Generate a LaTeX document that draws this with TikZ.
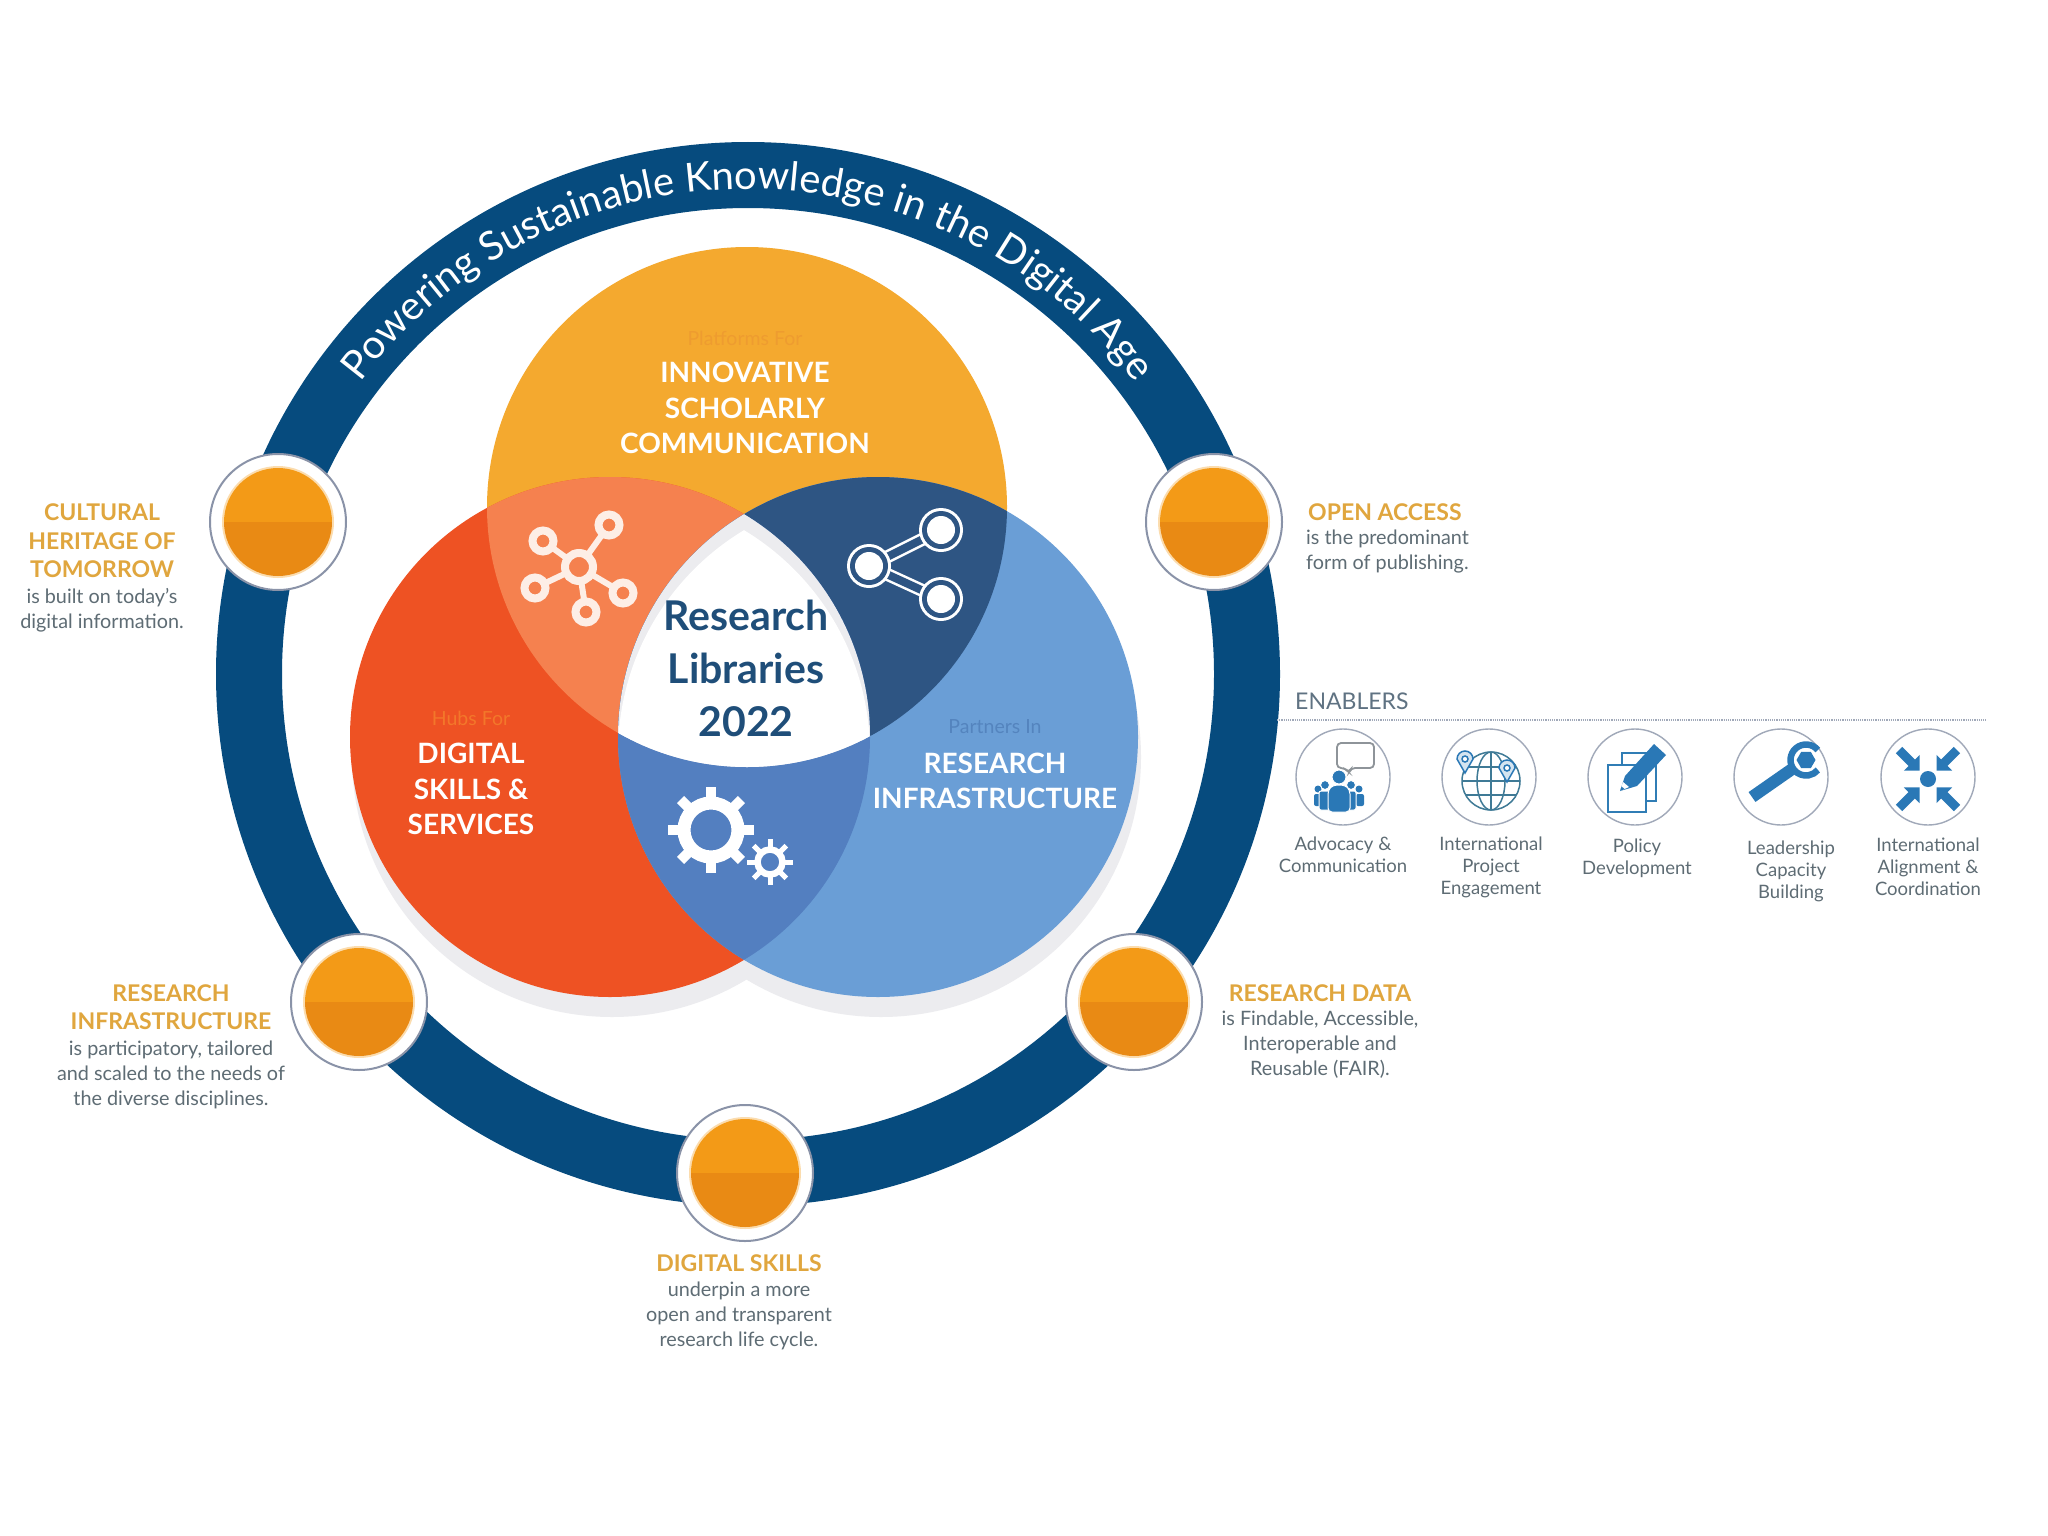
\documentclass[tikz,border=0pt]{standalone}
\usepackage{fontspec}
\setmainfont{Lato}
\usetikzlibrary{decorations.text,shapes.geometric}
\definecolor{ringblue}{HTML}{064B7E}
\definecolor{cyellow}{HTML}{F4A92F}
\definecolor{cred}{HTML}{EE5223}
\definecolor{cblue}{HTML}{6A9ED6}
\definecolor{ovry}{HTML}{F5814F}
\definecolor{ovyb}{HTML}{2E5583}
\definecolor{ovrb}{HTML}{537FC0}
\definecolor{shadowc}{HTML}{ECECEF}
\definecolor{headgold}{HTML}{E0A63E}
\definecolor{bodygray}{HTML}{5E6C74}
\definecolor{centerblue}{HTML}{1F4E79}
\definecolor{iconblue}{HTML}{2A78B6}
\definecolor{iconteal}{HTML}{4A8FB0}
\definecolor{discup}{HTML}{F39A17}
\definecolor{disclow}{HTML}{E98A14}
\definecolor{discring}{HTML}{8A93A8}
\definecolor{enabgray}{HTML}{5F7282}
\definecolor{pfcolor}{HTML}{EE9C30}
\definecolor{hfcolor}{HTML}{F3772A}
\definecolor{picolor}{HTML}{5484BE}
\definecolor{bubblegray}{HTML}{8E9499}
\definecolor{iconpeach}{HTML}{FDEEE6}
\tikzset{
  bighead/.style={text=white,align=center,inner sep=0pt,font=\bfseries\fontsize{28}{35.5}\selectfont},
  smallhead/.style={align=center,inner sep=0pt,font=\fontsize{19.5}{22}\selectfont},
  lhead/.style={text=headgold,align=center,inner sep=0pt,font=\bfseries\fontsize{23}{28.5}\selectfont},
  lbody/.style={text=bodygray,align=center,inner sep=0pt,font=\fontsize{19.8}{25}\selectfont},
  enlabel/.style={text=bodygray,align=center,inner sep=0pt,font=\fontsize{18.5}{22}\selectfont},
  encircle/.style={draw=discring!80,line width=1.4pt,fill=white,ellipse,minimum width=94pt,minimum height=96pt,inner sep=0pt},
  nodering/.style={draw=discring,line width=2pt,fill=white,circle,minimum size=136pt,inner sep=0pt},
}
\newcommand{\rcirc}{(610,737) circle[radius=260]}
\newcommand{\ycirc}{(747,507) circle[radius=260]}
\newcommand{\bcirc}{(878,737) circle[radius=260]}
\newcommand{\orangedisc}[1]{%
  \begin{scope}[shift={#1}]
    \fill[discup!35] (0,0) circle[radius=56];
    \begin{scope}\clip (0,0) circle[radius=54];
      \fill[discup] (-55,-55) rectangle (55,0);
      \fill[disclow] (-55,0) rectangle (55,55);
    \end{scope}
  \end{scope}}
\begin{document}
\begin{tikzpicture}[x=1pt,y=-1pt]
\useasboundingbox (0,0) rectangle (2048,1536);
\fill[white] (0,0) rectangle (2048,1536);
% ring
\draw[ringblue,line width=66pt] (748,674) circle[radius=499];
\path[decorate,decoration={text along path,text color=white,text align=center,
  text={|\fontsize{40}{40}\selectfont|Powering Sustainable Knowledge in the Digital Age}}]
  (748,674) ++(144.5:485pt) arc[start angle=144.5,end angle=35.5,radius=485pt];
% shadows
\fill[shadowc] (612,757) circle[radius=260];
\fill[shadowc] (881,757) circle[radius=260];
% main circles
\fill[cyellow] \ycirc;
\fill[cred] \rcirc;
\fill[cblue] \bcirc;
% overlaps
\begin{scope}\clip \rcirc; \fill[ovry] \ycirc; \end{scope}
\begin{scope}\clip \ycirc; \fill[ovyb] \bcirc; \end{scope}
\begin{scope}\clip \rcirc; \fill[ovrb] \bcirc; \end{scope}
% centre
\begin{scope}\clip \rcirc; \clip \ycirc; \clip \bcirc;
  \fill[shadowc] (600,400) rectangle (900,800);
  \begin{scope}[shift={(0,16)}]
    \clip \rcirc; \clip \bcirc;
    \fill[white] (500,400) rectangle (1000,900);
  \end{scope}
\end{scope}
% network icon
\foreach \px/\py in {543/541,609/525,535/588,623/593,586/612}{
  \draw[iconpeach,line width=6pt] (579,567) -- (\px,\py);
  \fill[ovry,draw=iconpeach,line width=8pt] (\px,\py) circle[radius=10.5];
}
\fill[ovry,draw=iconpeach,line width=8pt] (579,567) circle[radius=14];
% share icon
\draw[white,line width=13pt] (869,566) -- (941,530) (869,566) -- (941,599);
\draw[ovyb,line width=8pt] (869,566) -- (941,530) (869,566) -- (941,599);
\foreach \px/\py in {941/530,869/566,941/599}{
  \fill[white] (\px,\py) circle[radius=22];
  \fill[ovyb] (\px,\py) circle[radius=19];
  \fill[white] (\px,\py) circle[radius=14];
}
% gears
\draw[white,line width=13pt] (711,830) circle[radius=27];
\foreach \a in {0,45,...,315}{\draw[white,line width=10pt] (711,830) ++(\a:30pt) -- ++(\a:13pt);}
\draw[white,line width=6.5pt] (770,862) circle[radius=12.5];
\foreach \a in {0,45,...,315}{\draw[white,line width=5pt] (770,862) ++(\a:14pt) -- ++(\a:9pt);}
% circle texts
\node[smallhead,text=pfcolor] (pf) at (745,338) {Platforms For};
\node[bighead] (isc) at (745,408) {INNOVATIVE\\SCHOLARLY\\COMMUNICATION};
\node[smallhead,text=hfcolor] (hf) at (471,718) {Hubs For};
\node[bighead] (dss) at (471,789) {DIGITAL\\SKILLS \&\\SERVICES};
\node[smallhead,text=picolor] (pi) at (995,727) {Partners In};
\node[bighead] (ri) at (995,781) {RESEARCH\\INFRASTRUCTURE};
\node[text=centerblue,align=center,inner sep=0pt,font=\bfseries\fontsize{41}{53}\selectfont] (ctr) at (746,668) {Research\\Libraries\\2022};
% node discs
\node[nodering] (n1) at (278,522) {};
\node[nodering] (n2) at (1214,522) {};
\node[nodering] (n3) at (1134,1002) {};
\node[nodering] (n4) at (359,1002) {};
\node[nodering] (n5) at (745,1173) {};
\orangedisc{(278,522)}\orangedisc{(1214,522)}\orangedisc{(1134,1002)}\orangedisc{(359,1002)}\orangedisc{(745,1173)}
% labels
\node[lhead] (l1h) at (102,541) {CULTURAL\\HERITAGE OF\\TOMORROW};
\node[lbody] (l1b) at (102,610) {is built on today's\\digital information.};
\node[lhead,anchor=west] (l2h) at (1308,512) {OPEN ACCESS};
\node[lbody,align=left,anchor=west] (l2b) at (1306,552) {is the predominant\\form of publishing.};
\node[lhead] (l3h) at (171,1007) {RESEARCH\\INFRASTRUCTURE};
\node[lbody] (l3b) at (171,1075) {is participatory, tailored\\and scaled to the needs of\\the diverse disciplines.};
\node[lhead] (l4h) at (1320,993) {RESEARCH DATA};
\node[lbody] (l4b) at (1320,1045) {is Findable, Accessible,\\Interoperable and\\Reusable (FAIR).};
\node[lhead] (l5h) at (739,1263) {DIGITAL SKILLS};
\node[lbody] (l5b) at (739,1316) {underpin a more\\open and transparent\\research life cycle.};
% enablers
\node[text=enabgray,anchor=west,inner sep=0pt,font=\fontsize{23}{28}\selectfont] (en) at (1295,701) {ENABLERS};
\coordinate (ena) at (1277,720);
\coordinate (enb) at (1986,720);
\draw[discring!80,line width=1.2pt,densely dotted] (ena) -- (enb);
\node[encircle] (e1) at (1343,777) {};
\node[encircle] (e2) at (1489,777) {};
\node[encircle] (e3) at (1635,777) {};
\node[encircle] (e4) at (1781,777) {};
\node[encircle] (e5) at (1928,777) {};
\node[enlabel] (t1) at (1343,855) {Advocacy \&\\Communication};
\node[enlabel] (t2) at (1491,867) {International\\Project\\Engagement};
\node[enlabel] (t3) at (1637,858) {Policy\\Development};
\node[enlabel] (t4) at (1791,871) {Leadership\\Capacity\\Building};
\node[enlabel] (t5) at (1928,867) {International\\Alignment \&\\Coordination};
% icon 1: people + bubble
\begin{scope}[shift={(1343,777)}]
  \draw[bubblegray,line width=1.8pt,rounded corners=4pt,fill=white] (-6,-34) -- (31,-34) -- (31,-9) -- (8,-9) -- (6,-4) -- (2,-9) -- (-6,-9) -- cycle;
  \foreach \hx/\hy/\ba/\bb in {-25/12/-29/-21,16/12/13/21}{
    \fill[iconblue] (\hx,\hy) circle[radius=3.5];
    \fill[iconblue,rounded corners=2pt] (\ba,\hy+5) rectangle (\bb,29);
  }
  \foreach \hx/\hy/\ba/\bb in {-18/8/-24/-13,8/8/4/13}{
    \fill[iconblue,draw=white,line width=1pt] (\hx,\hy) circle[radius=4.5];
    \fill[iconblue,draw=white,line width=1pt,rounded corners=2pt] (\ba,\hy+6) rectangle (\bb,33);
  }
  \fill[iconblue,draw=white,line width=1pt] (-4,0) circle[radius=7];
  \fill[iconblue,draw=white,line width=1pt,rounded corners=4pt] (-15,35) -- (-15,13) -- (-10,8) -- (2,8) -- (7,13) -- (7,35) -- cycle;
\end{scope}
% icon 2: globe
\begin{scope}[shift={(1489,777)},iconteal!85!black,line width=1.5pt]
  \draw (2,4) circle[radius=29];
  \draw (2,4) circle[x radius=14,y radius=29];
  \draw (2,-25) -- (2,33);
  \draw (-27,4) -- (31,4);
  \draw (-23,-10) -- (27,-10);
  \draw (-23,18) -- (27,18);
  \foreach \px/\py in {-24/-18,18/-9}{
    \draw[iconblue,fill=iconblue!20] (\px,\py+14) -- ++(-8,-14) arc[start angle=180,end angle=0,radius=8pt] -- cycle;
    \draw[iconblue,fill=white] (\px,\py) circle[radius=3];
  }
\end{scope}
% icon 3: pages + pencil
\begin{scope}[shift={(1635,777)},iconblue!80!iconteal,line width=1.4pt]
  \draw[fill=white] (-13,-24) rectangle (21,24);
  \draw[fill=white] (-27,-12) rectangle (11,35);
  \fill[iconblue] (-15,14) -- (-10,-1) -- (19,-33) -- (31,-22) -- (2,9) -- cycle;
  \fill[white] (-15,14) -- (-12,5) -- (-6,10) -- cycle;
  \fill[iconblue] (-15,14) -- (-13.5,9.5) -- (-10.5,12) -- cycle;
\end{scope}
% icon 4: wrench
\begin{scope}[shift={(1781,777)}]
  \draw[iconblue,line width=12pt] (-29,20) -- (14,-10);
  \coordinate (wh) at (25,-17);
  \draw[iconblue,line width=6.5pt] (wh) ++(40:15.5pt) arc[start angle=40,end angle=320,radius=15.5pt];
  \node[fill=iconblue,regular polygon,regular polygon sides=6,minimum size=19pt,inner sep=0pt] (nut) at (wh) {};
\end{scope}
% icon 5: converging arrows
\begin{scope}[shift={(1928,777)}]
  \fill[iconblue] (0,2) circle[radius=8];
  \foreach \r in {45,135,225,315}{
    \begin{scope}[shift={(0,2)},rotate=\r]
      \fill[iconblue] (12,0) -- (23,-11) -- (23,-4.5) -- (41,-4.5) -- (41,4.5) -- (23,4.5) -- (23,11) -- cycle;
    \end{scope}
  }
\end{scope}
\end{tikzpicture}
\end{document}
